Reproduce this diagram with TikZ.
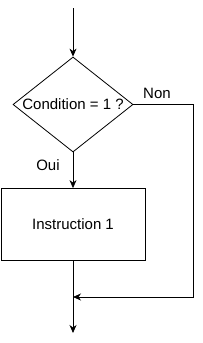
\documentclass[tikz,border=0pt]{standalone}
\usepackage{fontspec}
\setmainfont{Liberation Sans}
\usetikzlibrary{shapes.geometric,arrows.meta}
\begin{document}
\begin{tikzpicture}[x=1pt,y=-1pt, line width=0.8pt,
  arr/.style={-{Stealth[length=8pt,width=7pt,inset=2.5pt]}},
  txt/.style={font=\fontsize{15}{17}\selectfont},
  cond/.style={diamond, draw, minimum width=120pt, minimum height=95pt, inner sep=0pt},
  box/.style={rectangle, draw, minimum width=144pt, minimum height=72pt, txt},
  lbl/.style={txt, inner sep=0pt}]
\useasboundingbox (0,0) rectangle (203,343);
\coordinate (start) at (73,8);
\node[cond, label={[lbl]center:Condition = 1 ?}] (c) at (73,104.5) {};
\node[box] (b) at (73,224.5) {Instruction 1};
\coordinate (corner1) at (193,104.5);
\coordinate (corner2) at (193,297);
\coordinate (join) at (73,297);
\coordinate (end) at (73,333);
\node[lbl] (oui) at (48,165) {Oui};
\node[lbl] (non) at (157,93) {Non};
\draw[arr] (start) -- (c.north);
\draw[arr] (c.south) -- (b.north);
\draw (b.south) -- (join);
\draw[arr] (join) -- (end);
\draw[arr] (c.east) -- (corner1) -- (corner2) -- (join);
\end{tikzpicture}
\end{document}
